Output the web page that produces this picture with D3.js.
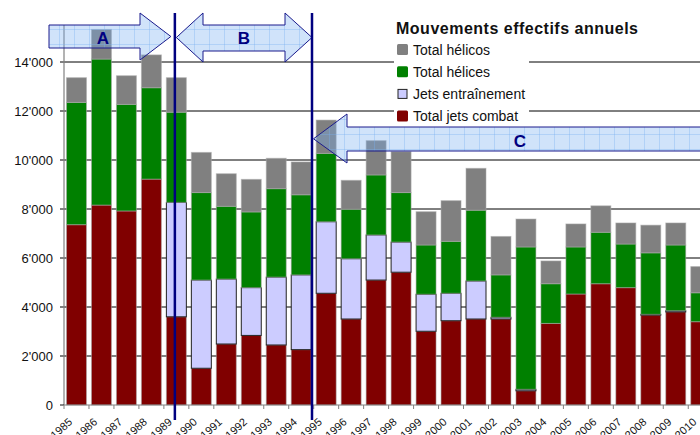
<!DOCTYPE html>
<html>
<head>
<meta charset="utf-8">
<script src="https://cdn.jsdelivr.net/npm/d3@7"></script>
<style>
  body { margin: 0; background: #fff; }
  svg { display: block; font-family: "Liberation Sans", Arial, sans-serif; }
</style>
</head>
<body>
<div id="chart"></div>
<script>
// données
const years = ["1985", "1986", "1987", "1988", "1989", "1990", "1991", "1992", "1993", "1994",
    "1995", "1996", "1997", "1998", "1999", "2000", "2001", "2002", "2003", "2004",
    "2005", "2006", "2007", "2008", "2009", "2010"];
const jetsCombat = [7360, 8160, 7920, 9220, 3600, 1500, 2490, 2840, 2450, 2260,
    4560, 3510, 5100, 5420, 3010, 3440, 3510, 3510, 580, 3330,
    4530, 4950, 4790, 3670, 3800, 3400];
const jetsEntrainement = [0, 0, 0, 0, 4670, 3600, 2650, 1950, 2770, 3050,
    2920, 2460, 1840, 1230, 1510, 1120, 1550, 70, 60, 0,
    0, 0, 0, 30, 50, 0];
const helices = [4990, 5960, 4350, 3730, 3680, 3570, 2970, 3090, 3610, 3270,
    2790, 2020, 2450, 2020, 2010, 2120, 2890, 1730, 5810, 1620,
    1920, 2100, 1780, 2510, 2680, 1180];
const helicos = [1010, 1210, 1170, 1340, 1410, 1640, 1330, 1330, 1240, 1340,
    1360, 1180, 1400, 1670, 1360, 1660, 1710, 1570, 1140, 930,
    940, 1080, 860, 1130, 900, 1070];
const yTicks = [0, 2000, 4000, 6000, 8000, 10000, 12000, 14000];

const series = [
    { name: "Total jets combat", values: jetsCombat, color: "#800000" },
    { name: "Jets entraînement", values: jetsEntrainement, color: "#ccccff" },
    { name: "Total hélices", values: helices, color: "#008000" },
    { name: "Total hélicos", values: helicos, color: "#808080" }
];

const width = 700, height = 435;
const x0 = 64, y0 = 405;
const step = 24.97;

const svg = d3.select("#chart").append("svg")
    .attr("width", width)
    .attr("height", height);

const defs = svg.append("defs");
const pat = defs.append("pattern")
    .attr("id", "grille")
    .attr("patternUnits", "userSpaceOnUse")
    .attr("width", 15).attr("height", 15);
pat.append("rect").attr("width", 15).attr("height", 15)
    .attr("fill", "#78aff0").attr("opacity", 0.35);
pat.append("path").attr("d", "M14.5,0V15M0,14.5H15")
    .attr("stroke", "#78aff0").attr("stroke-opacity", 0.35).attr("fill", "none");

// échelles
const x = d3.scaleBand()
    .domain(years)
    .range([x0, x0 + step * years.length])
    .paddingInner(0.2)
    .paddingOuter(0.1);

const y = d3.scaleLinear()
    .domain([0, 14000])
    .range([y0, 62]);

const fmt = v => d3.format(",")(v).replace(/,/g, "'");

// grille horizontale
svg.append("g").selectAll("line")
    .data(yTicks.filter(d => d > 0))
    .enter().append("line")
    .attr("x1", x0 - 4).attr("x2", width)
    .attr("y1", d => y(d)).attr("y2", d => y(d))
    .attr("stroke", "#000").attr("stroke-width", 1);

// empilement
const stackRows = years.map((yr, i) => {
    const row = { year: yr };
    series.forEach(s => { row[s.name] = s.values[i]; });
    return row;
});
const stacked = d3.stack().keys(series.map(s => s.name))(stackRows);

stacked.forEach((layer, li) => {
    const s = series[li];
    const isTraining = s.name === "Jets entraînement";
    svg.append("g").selectAll("rect")
        .data(layer.filter(d => d[1] - d[0] > 0))
        .enter().append("rect")
        .attr("x", d => x(d.data.year))
        .attr("width", x.bandwidth())
        .attr("y", d => y(d[1]))
        .attr("height", d => y(d[0]) - y(d[1]))
        .attr("fill", s.color)
        .attr("stroke", isTraining ? "#222" : "rgba(170,170,170,0.55)")
        .attr("stroke-width", 1);
});

// axe Y
svg.append("line")
    .attr("x1", x0).attr("x2", x0).attr("y1", 25).attr("y2", y0)
    .attr("stroke", "#808080").attr("stroke-width", 1.2);
svg.append("g").selectAll("text")
    .data(yTicks)
    .enter().append("text")
    .attr("x", x0 - 11)
    .attr("y", d => y(d))
    .attr("dy", "0.36em")
    .attr("text-anchor", "end")
    .attr("font-size", 13)
    .attr("fill", "#111")
    .text(d => fmt(d));
svg.append("line")
    .attr("x1", x0 - 4).attr("x2", x0).attr("y1", y0).attr("y2", y0)
    .attr("stroke", "#111");

// axe X
svg.append("line")
    .attr("x1", x0).attr("x2", width).attr("y1", y0).attr("y2", y0)
    .attr("stroke", "#808080").attr("stroke-width", 1.2);
const tickX = d => x(d) - x.step() * 0.1;
svg.append("g").selectAll("line")
    .data(years)
    .enter().append("line")
    .attr("x1", d => tickX(d)).attr("x2", d => tickX(d))
    .attr("y1", y0).attr("y2", y0 + 4)
    .attr("stroke", "#808080");
svg.append("g").selectAll("text")
    .data(years)
    .enter().append("text")
    .attr("transform", d => `translate(${tickX(d) + 9},${y0 + 18}) rotate(-42)`)
    .attr("text-anchor", "end")
    .attr("font-size", 11)
    .attr("fill", "#111")
    .text(d => d);

// légende
const lg = svg.append("g");
lg.append("rect")
    .attr("x", 394).attr("y", 38).attr("width", 135).attr("height", 88)
    .attr("fill", "#fff");
lg.append("text")
    .attr("x", 396).attr("y", 34)
    .attr("font-size", 16).attr("font-weight", "bold")
    .attr("letter-spacing", 0.5)
    .attr("fill", "#111")
    .text("Mouvements effectifs annuels");
const legendItems = series.slice().reverse();
legendItems.forEach((s, i) => {
    const cy = 49.5 + i * 22.2;
    const isTraining = s.name === "Jets entraînement";
    if (isTraining) {
        lg.append("rect")
            .attr("x", 398).attr("y", cy - 4.5).attr("width", 9).attr("height", 9)
            .attr("fill", s.color).attr("stroke", "#222");
    } else {
        lg.append("rect")
            .attr("x", 397).attr("y", cy - 5.5).attr("width", 11).attr("height", 11)
            .attr("rx", 1.5)
            .attr("fill", s.color);
    }
    lg.append("text")
        .attr("x", 413).attr("y", cy)
        .attr("dy", "0.36em")
        .attr("font-size", 14)
        .attr("fill", "#111")
        .text(s.name);
});

// annotations : périodes A, B, C
const lineA = x("1989") + x.bandwidth() / 2 - 1.5;
const lineB = tickX("1995") - 1.7;
const ann = svg.append("g");
const arrowStyle = sel => sel
    .attr("fill", "url(#grille)")
    .attr("stroke", "#1a1a8c")
    .attr("stroke-width", 1);

// A : flèche vers la droite
ann.append("path").call(arrowStyle)
    .attr("d", `M49,25H140V13L${lineA - 4},36.5L140,60V48H49Z`);
// B : double flèche
ann.append("path").call(arrowStyle)
    .attr("d", `M${lineA + 1.5},37.5L203,13V25H285V13L${lineB},37.5L285,62V51H203V62Z`);
// C : flèche vers la gauche
ann.append("path").call(arrowStyle)
    .attr("d", `M${lineB + 1.5},138.8L347,114V127H720V151H347V163Z`);

[lineA, lineB].forEach(lx => {
    ann.append("line")
        .attr("x1", lx).attr("x2", lx).attr("y1", 13).attr("y2", 420)
        .attr("stroke", "#000080").attr("stroke-width", 2.5);
});

const labels = [
    { t: "A", x: 103, y: 44 },
    { t: "B", x: 244, y: 44 },
    { t: "C", x: 520, y: 146.5 }
];
ann.selectAll("text.lbl")
    .data(labels)
    .enter().append("text")
    .attr("class", "lbl")
    .attr("x", d => d.x).attr("y", d => d.y)
    .attr("text-anchor", "middle")
    .attr("font-size", 17).attr("font-weight", "bold")
    .attr("fill", "#000080")
    .text(d => d.t);
</script>
</body>
</html>
